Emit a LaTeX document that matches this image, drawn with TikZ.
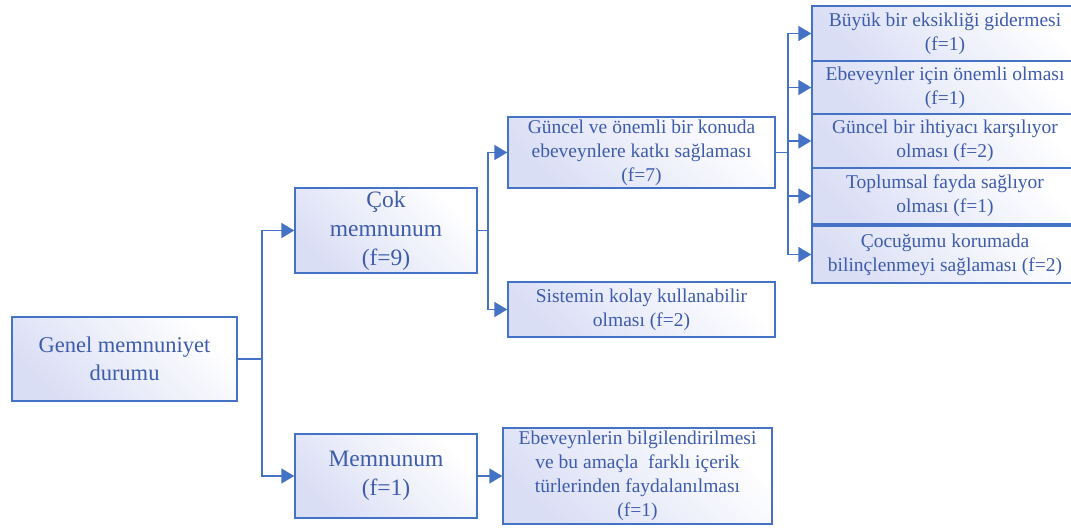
\documentclass[tikz,border=0pt]{standalone}
\usepackage{fontspec}
\setmainfont{Liberation Serif}
\newfontfamily\tnr{Liberation Serif}
\usetikzlibrary{arrows.meta}
\definecolor{bord}{RGB}{68,114,196}
\definecolor{txt}{RGB}{62,92,172}
\definecolor{lav}{RGB}{218,222,245}
\tikzset{
  box/.style={draw=bord, line width=1.4pt, inner sep=0pt, align=center, text=txt,
    top color=white, bottom color=lav, shading angle=-45,
    font=\tnr\fontsize{19.5}{24}\selectfont},
  bigbox/.style={box, font=\tnr\fontsize{22.5}{27.5}\selectfont},
  conn/.style={draw=bord, line width=1.8pt},
  arr/.style={conn, -{Triangle[length=13pt,width=15pt]}},
}
\begin{document}
\begin{tikzpicture}[x=1pt,y=-1pt]
\useasboundingbox (0,0) rectangle (1071,529);
% level 1
\node[bigbox, minimum width=225pt, minimum height=84pt] (genel) at (124.5,359) {Genel memnuniyet\\durumu};
% level 2
\node[bigbox, minimum width=182pt, minimum height=85pt, font=\tnr\fontsize{23.5}{29}\selectfont] (cok) at (386,230.5) {Çok\\memnunum\\(f=9)};
\node[bigbox, minimum width=182pt, minimum height=84pt, font=\tnr\fontsize{23.5}{29}\selectfont] (mem) at (386,476) {Memnunum\\(f=1)};
% level 3
\node[box, minimum width=267pt, minimum height=71pt] (guncel) at (641.5,152.5) {Güncel ve önemli bir konuda\\ebeveynlere katkı sağlaması\\(f=7)};
\node[box, minimum width=267pt, minimum height=55pt] (sistem) at (641.5,309.5) {Sistemin kolay kullanabilir\\olması (f=2)};
\node[box, minimum width=269pt, minimum height=96pt] (ebev) at (637.5,476) {Ebeveynlerin bilgilendirilmesi\\ve bu amaçla\ \ farklı içerik\\türlerinden faydalanılması\\(f=1)};
% level 4
\node[box, minimum width=266pt, minimum height=55pt] (r1) at (945,33.5) {Büyük bir eksikliği gidermesi\\(f=1)};
\node[box, minimum width=266pt, minimum height=53pt] (r2) at (945,87.5) {Ebeveynler için önemli olması\\(f=1)};
\node[box, minimum width=266pt, minimum height=54pt] (r3) at (945,141) {Güncel bir ihtiyacı karşılıyor\\olması (f=2)};
\node[box, minimum width=266pt, minimum height=56pt] (r4) at (945,196) {Toplumsal fayda sağlıyor\\olması (f=1)};
\node[box, minimum width=266pt, minimum height=57pt] (r5) at (945,254.5) {Çocuğumu korumada\\bilinçlenmeyi sağlaması (f=2)};
% junctions
\coordinate (j1) at (262,359);
\coordinate (j2) at (488,230.5);
\coordinate (j3) at (788,152.5);
% connectors
\draw[conn] (genel.east) -- (j1);
\draw[arr] (j1) |- (cok.west);
\draw[arr] (j1) |- (mem.west);
\draw[conn] (cok.east) -- (j2);
\draw[arr] (j2) |- (guncel.west);
\draw[arr] (j2) |- (sistem.west);
\draw[arr] (mem.east) -- (ebev.west);
\draw[conn] (guncel.east) -- (j3);
\draw[arr] (j3) |- (r1.west);
\draw[arr] (j3) |- (r2.west);
\draw[arr] (j3) |- (r3.west);
\draw[arr] (j3) |- (r4.west);
\draw[arr] (j3) |- (r5.west);
\end{tikzpicture}
\end{document}
